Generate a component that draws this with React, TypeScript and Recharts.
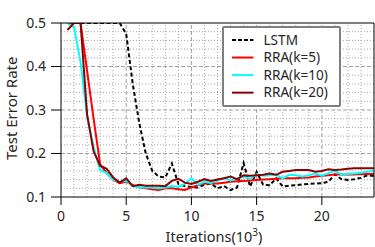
import React from 'react';
import { LineChart, Line, XAxis, YAxis, ReferenceLine, Legend } from 'recharts';

const iterations = [0.5, 1, 1.5, 2, 2.5, 3, 3.5, 4, 4.5, 5, 5.5, 6, 6.5, 7, 7.5, 8, 8.5, 9, 9.5, 10, 10.5, 11, 11.5, 12, 12.5, 13, 13.5, 14, 14.5, 15, 15.5, 16, 16.5, 17, 17.5, 18, 18.5, 19, 19.5, 20, 20.5, 21, 21.5, 22, 22.5, 23, 23.5, 24];

const lstm = [0.5, 0.5, 0.5, 0.5, 0.5, 0.5, 0.5, 0.5, 0.5, 0.475, 0.36, 0.27, 0.2, 0.16, 0.147, 0.145, 0.177, 0.13, 0.125, 0.123, 0.122, 0.128, 0.131, 0.12, 0.125, 0.116, 0.122, 0.178, 0.124, 0.158, 0.128, 0.127, 0.143, 0.124, 0.126, 0.127, 0.129, 0.13, 0.131, 0.132, 0.135, 0.152, 0.141, 0.139, 0.141, 0.144, 0.15, 0.148];

const rraK5 = [0.5, 0.5, 0.5, 0.39, 0.28, 0.175, 0.155, 0.14, 0.132, 0.135, 0.128, 0.122, 0.12, 0.118, 0.116, 0.12, 0.12, 0.118, 0.116, 0.122, 0.127, 0.131, 0.131, 0.131, 0.133, 0.135, 0.136, 0.137, 0.138, 0.139, 0.14, 0.141, 0.142, 0.143, 0.143, 0.143, 0.144, 0.145, 0.147, 0.149, 0.15, 0.152, 0.152, 0.152, 0.152, 0.153, 0.153, 0.153];

const rraK10 = [0.5, 0.49, 0.41, 0.285, 0.215, 0.162, 0.155, 0.14, 0.135, 0.137, 0.125, 0.122, 0.122, 0.122, 0.12, 0.122, 0.125, 0.123, 0.13, 0.143, 0.128, 0.135, 0.132, 0.138, 0.143, 0.138, 0.142, 0.147, 0.142, 0.152, 0.149, 0.15, 0.151, 0.143, 0.151, 0.15, 0.147, 0.15, 0.154, 0.149, 0.155, 0.16, 0.152, 0.153, 0.154, 0.156, 0.158, 0.16];

const rraK20 = [0.484, 0.5, 0.5, 0.29, 0.205, 0.172, 0.165, 0.145, 0.133, 0.143, 0.125, 0.128, 0.126, 0.126, 0.126, 0.125, 0.137, 0.142, 0.133, 0.13, 0.135, 0.141, 0.137, 0.14, 0.143, 0.147, 0.141, 0.15, 0.149, 0.15, 0.151, 0.154, 0.151, 0.158, 0.16, 0.162, 0.162, 0.162, 0.158, 0.16, 0.164, 0.162, 0.163, 0.165, 0.166, 0.166, 0.166, 0.166];

const xTicks = [0, 5, 10, 15, 20];
const yTicks = [0.1, 0.2, 0.3, 0.4, 0.5];
const xMinor = [1, 2, 3, 4, 6, 7, 8, 9, 11, 12, 13, 14, 16, 17, 18, 19, 21, 22, 23];
const yMinor = [0.12, 0.14, 0.16, 0.18, 0.22, 0.24, 0.26, 0.28, 0.32, 0.34, 0.36, 0.38, 0.42, 0.44, 0.46, 0.48];
const xMajorGrid = [5, 10, 15, 20];
const yMajorGrid = [0.2, 0.3, 0.4];

const seriesNames = ['LSTM', 'RRA(k=5)', 'RRA(k=10)', 'RRA(k=20)'];
const seriesColors = ['#000000', '#ff0000', '#00ffff', '#8b0000'];

const data = iterations.map((x, i) => ({
  x,
  lstm: lstm[i],
  k5: rraK5[i],
  k10: rraK10[i],
  k20: rraK20[i],
}));

const FONT = '"Noto Sans", "Open Sans", sans-serif';
const TEXT = '#262626';

const LegendBox = () => (
  <svg width={119} height={81} style={{ display: 'block' }}>
    <rect x={1} y={1} width={117} height={79} fill="#ffffff" stroke="#7f7f7f" strokeWidth={2} rx={1} />
    {seriesNames.map((name, i) => {
      const y = 14 + i * 17.55;
      return (
        <g key={name}>
          <line
            x1={10}
            x2={31.5}
            y1={y}
            y2={y}
            stroke={seriesColors[i]}
            strokeWidth={2}
            strokeDasharray={i === 0 ? '4 2' : undefined}
          />
          <text x={41.5} y={y + 4.8} fontSize={13.6} fontFamily={FONT} fill={TEXT}>
            {name}
          </text>
        </g>
      );
    })}
  </svg>
);

const XLabel = () => (
  <text x={214} y={241.5} textAnchor="middle" fontSize={14.5} fontFamily={FONT} fill={TEXT}>
    Iterations(10
    <tspan dy={-5.5} fontSize={10}>3</tspan>
    <tspan dy={5.5}>)</tspan>
  </text>
);

const YLabel = () => (
  <text
    x={16.8}
    y={108.3}
    transform="rotate(-90, 16.8, 108.3)"
    textAnchor="middle"
    fontSize={15}
    fontFamily={FONT}
    fill={TEXT}
  >
    Test Error Rate
  </text>
);

export default function App() {
  return (
    <div style={{ position: 'absolute', left: 0, top: 0, width: 375, height: 247, background: '#fff' }}>
      <LineChart
        width={375}
        height={247}
        data={data}
        margin={{ top: 23, right: 1, bottom: 0, left: 0 }}
        style={{ fontFamily: FONT }}
      >
        <XAxis
          dataKey="x"
          type="number"
          domain={[0, 24]}
          ticks={xTicks}
          allowDataOverflow
          height={50}
          tickSize={8}
          tickMargin={6}
          stroke="#000"
          tick={{ fill: TEXT, fontSize: 14, fontFamily: FONT }}
          label={<XLabel />}
        />
        <YAxis
          type="number"
          domain={[0.1, 0.5]}
          ticks={yTicks}
          allowDataOverflow
          width={61}
          tickSize={10}
          tickMargin={5}
          stroke="#000"
          tickFormatter={(v: number) => v.toFixed(1)}
          tick={{ fill: TEXT, fontSize: 14, fontFamily: FONT }}
          label={<YLabel />}
        />
        {xMinor.map((v) => (
          <ReferenceLine key={'xm' + v} x={v} stroke="#a8a8a8" strokeWidth={1} strokeDasharray="1 2" />
        ))}
        {yMinor.map((v) => (
          <ReferenceLine key={'ym' + v} y={v} stroke="#a8a8a8" strokeWidth={1} strokeDasharray="1 2" />
        ))}
        {xMajorGrid.map((v) => (
          <ReferenceLine key={'xM' + v} x={v} stroke="#a0a0a0" strokeWidth={1} strokeDasharray="4 2" />
        ))}
        {yMajorGrid.map((v) => (
          <ReferenceLine key={'yM' + v} y={v} stroke="#a0a0a0" strokeWidth={1} strokeDasharray="4 2" />
        ))}
        <Line dataKey="lstm" name={seriesNames[0]} stroke={seriesColors[0]} strokeWidth={2} strokeDasharray="4 2.5" dot={false} isAnimationActive={false} />
        <Line dataKey="k5" name={seriesNames[1]} stroke={seriesColors[1]} strokeWidth={2} dot={false} isAnimationActive={false} />
        <Line dataKey="k10" name={seriesNames[2]} stroke={seriesColors[2]} strokeWidth={2} dot={false} isAnimationActive={false} />
        <Line dataKey="k20" name={seriesNames[3]} stroke={seriesColors[3]} strokeWidth={2} dot={false} isAnimationActive={false} />
        <ReferenceLine y={0.5} stroke="#000" strokeWidth={1} />
        <ReferenceLine x={24} stroke="#000" strokeWidth={1} />
        <Legend
          layout="horizontal"
          verticalAlign="middle"
          align="center"
          content={() => <LegendBox />}
          wrapperStyle={{ position: 'absolute', left: 222, top: 26, width: 119, height: 81 }}
        />
      </LineChart>
    </div>
  );
}
